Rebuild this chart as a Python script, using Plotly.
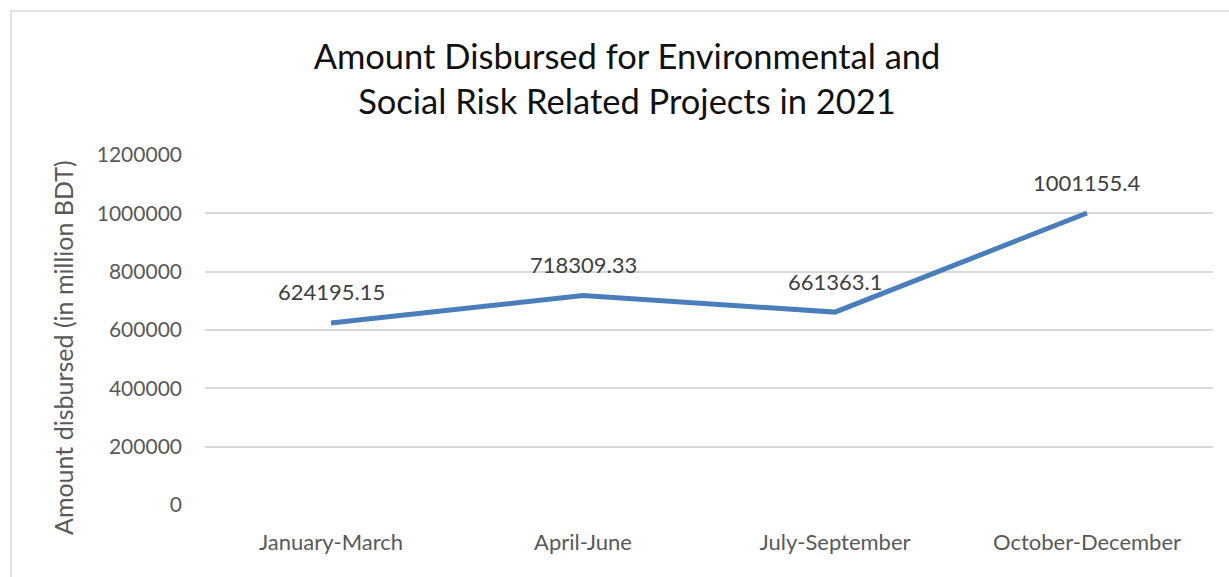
import plotly.graph_objects as go

categories = ["January-March", "April-June", "July-September", "October-December"]
amounts = [624195.15, 718309.33, 661363.1, 1001155.4]
amount_labels = ["624195.15", "718309.33", "661363.1", "1001155.4"]
y_ticks = [0, 200000, 400000, 600000, 800000, 1000000, 1200000]

FONT = "Lato, Carlito, Calibri, sans-serif"
L, R, T, B = 205, 16, 155, 72
PW, PH = 1229 - L - R, 577 - T - B

fig = go.Figure()
fig.add_trace(go.Scatter(
    x=categories, y=amounts, mode="lines",
    line=dict(color="#4a7ebb", width=5),
    hoverinfo="skip", showlegend=False,
))

for c, v, t in zip(categories, amounts, amount_labels):
    fig.add_annotation(x=c, y=v, text=t, showarrow=False, yshift=31,
                       font=dict(family=FONT, size=22, color="#404040"))

# y-axis title placed as a rotated annotation
fig.add_annotation(text="Amount disbursed (in million BDT)", textangle=-90, showarrow=False,
                   xref="paper", yref="paper",
                   x=(63 - L) / PW, y=1 - (348 - T) / PH, xanchor="center", yanchor="middle",
                   font=dict(family=FONT, size=25, color="#595959"))

fig.update_layout(
    width=1229, height=577,
    margin=dict(l=L, r=R, t=T, b=B),
    paper_bgcolor="white", plot_bgcolor="white",
    title=dict(text="Amount Disbursed for Environmental and<br>Social Risk Related Projects in 2021",
               x=627 / 1229, xanchor="center", y=1 - 69 / 577, yanchor="middle",
               font=dict(family=FONT, size=34.5, color="#111111")),
    xaxis=dict(range=[-0.5, 3.5], automargin=False,
               showgrid=False, showline=False, zeroline=False, ticks="",
               tickfont=dict(family=FONT, size=22, color="#595959"), ticklabelstandoff=22),
    yaxis=dict(range=[0, 1200000], automargin=False,
               tickvals=y_ticks, ticktext=[str(v) for v in y_ticks],
               showgrid=True, gridcolor="#d9d9d9", gridwidth=1.5, zeroline=False,
               showline=False, ticks="",
               tickfont=dict(family=FONT, size=21, color="#595959"), ticklabelstandoff=22),
    shapes=[dict(type="rect", xref="paper", yref="paper",
                 x0=(11 - L) / PW, x1=1.2, y0=-0.5, y1=1 + (T - 11) / PH,
                 line=dict(color="#d9d9d9", width=1.5), fillcolor="rgba(0,0,0,0)", layer="below")],
)

fig.write_html("out.html")
